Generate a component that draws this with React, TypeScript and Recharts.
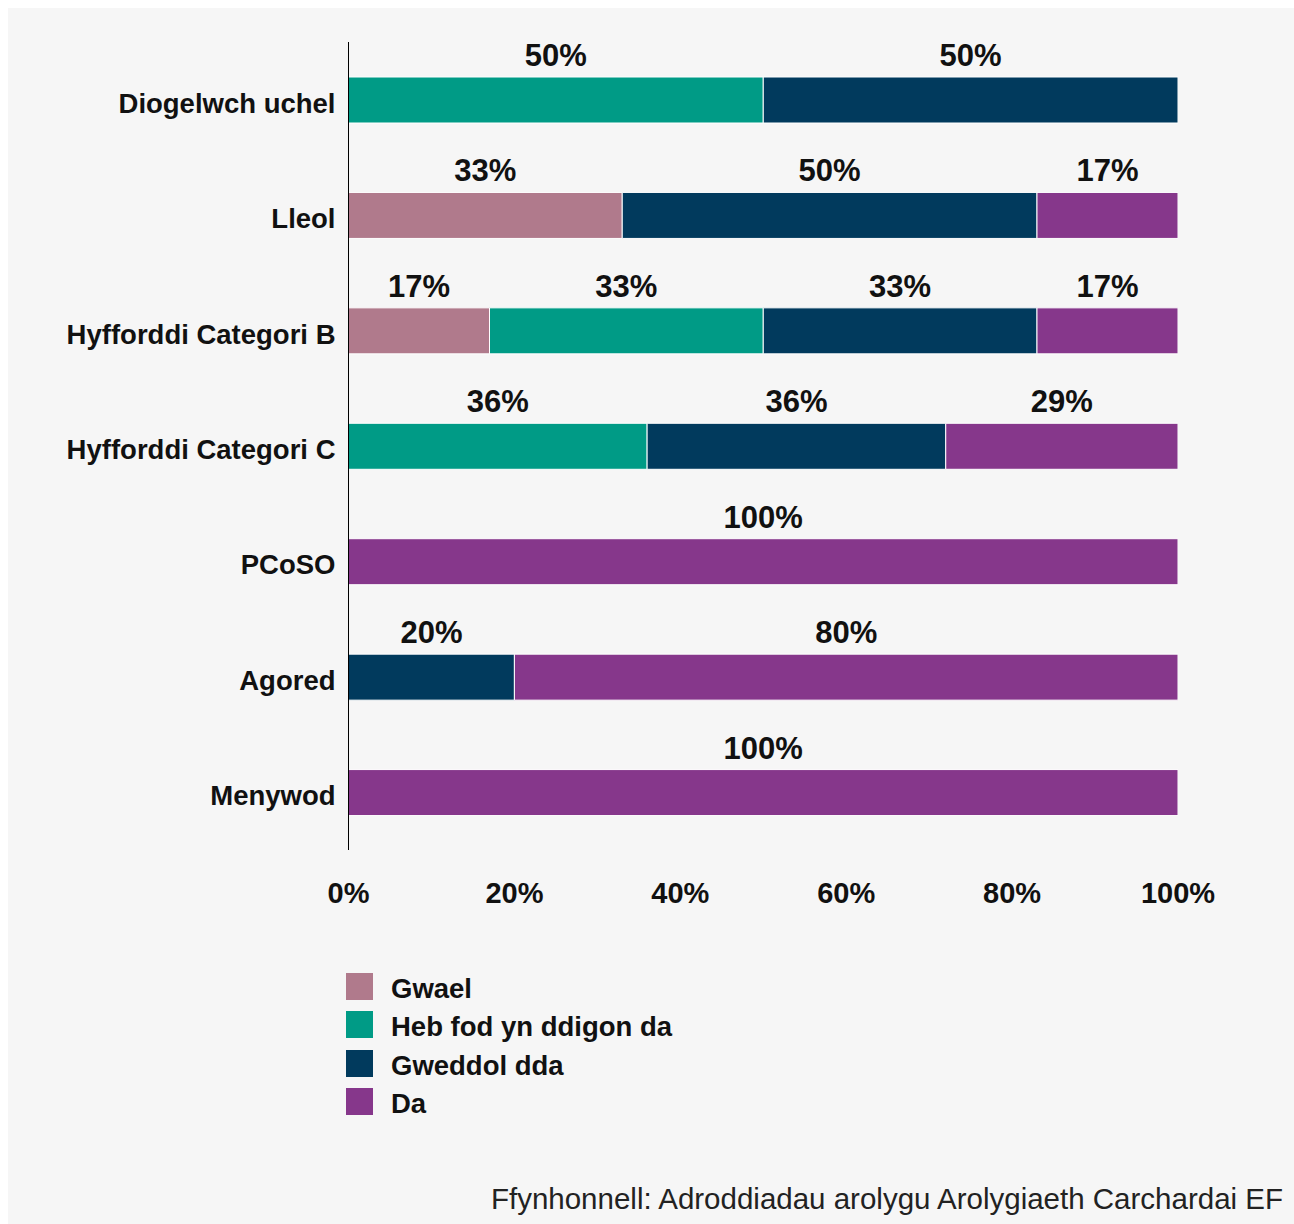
import { BarChart, Bar, XAxis, YAxis, LabelList } from 'recharts';

// Categories, top to bottom
const categories = [
  'Diogelwch uchel',
  'Lleol',
  'Hyfforddi Categori B',
  'Hyfforddi Categori C',
  'PCoSO',
  'Agored',
  'Menywod',
];

// Share of each rating, in percent
const gwael = [0, 33, 17, 0, 0, 0, 0];
const hebFodYnDdigonDa = [50, 0, 33, 36, 0, 0, 0];
const gweddolDda = [50, 50, 33, 36, 0, 20, 0];
const da = [0, 17, 17, 29, 100, 80, 100];

const xTicks = [0, 20, 40, 60, 80, 100];

const sourceNote = 'Ffynhonnell: Adroddiadau arolygu Arolygiaeth Carchardai EF';

const series = [
  { key: 'gwael', name: 'Gwael', color: '#b07a8c', values: gwael },
  { key: 'heb', name: 'Heb fod yn ddigon da', color: '#009b86', values: hebFodYnDdigonDa },
  { key: 'gweddol', name: 'Gweddol dda', color: '#013a5d', values: gweddolDda },
  { key: 'da', name: 'Da', color: '#86378b', values: da },
];

const data = categories.map((name, i) => {
  const row: Record<string, string | number> = { name };
  series.forEach((s) => {
    row[s.key] = s.values[i];
  });
  return row;
});

const FONT = "'Liberation Sans', Arial, sans-serif";
const INK = '#111';

// eslint-disable-next-line @typescript-eslint/no-explicit-any
const CategoryTick = ({ x, y, payload }: any) => (
  <text x={x - 5} y={y + 13} textAnchor="end" fontFamily={FONT} fontWeight={700} fontSize={27.5} fill={INK}>
    {payload.value}
  </text>
);

// eslint-disable-next-line @typescript-eslint/no-explicit-any
const PercentTick = ({ x, y, payload }: any) => (
  <text x={x} y={y + 45} textAnchor="middle" fontFamily={FONT} fontWeight={700} fontSize={29} fill={INK}>
    {`${payload.value}%`}
  </text>
);

// eslint-disable-next-line @typescript-eslint/no-explicit-any
const SegmentLabel = ({ x, y, width, value }: any) => {
  if (!value) return null;
  return (
    <text
      x={Number(x) + Number(width) / 2}
      y={Number(y) - 11}
      textAnchor="middle"
      fontFamily={FONT}
      fontWeight={700}
      fontSize={31}
      fill={INK}
    >
      {`${value}%`}
    </text>
  );
};

export default function App() {
  return (
    <div style={{ position: 'fixed', left: 8, top: 8, width: 1286, height: 1216, background: '#f6f6f6' }}>
      <BarChart
        width={1286}
        height={930}
        data={data}
        layout="vertical"
        barSize={46}
        margin={{ top: 34, right: 116, bottom: 0, left: 0 }}
      >
        <XAxis
          type="number"
          domain={[0, 100]}
          ticks={xTicks}
          allowDataOverflow
          axisLine={false}
          tickLine={false}
          height={88}
          tick={PercentTick}
          interval={0}
        />
        <YAxis
          type="category"
          dataKey="name"
          width={340.5}
          axisLine={{ stroke: '#000', strokeWidth: 1 }}
          tickLine={false}
          tick={CategoryTick}
          interval={0}
        />
        {series.map((s) => (
          <Bar
            key={s.key}
            dataKey={s.key}
            name={s.name}
            stackId="a"
            fill={s.color}
            stroke="#ffffff"
            strokeWidth={1}
            isAnimationActive={false}
          >
            <LabelList dataKey={s.key} content={SegmentLabel} />
          </Bar>
        ))}
      </BarChart>

      {series.map((s, i) => (
        <div key={s.key} style={{ position: 'absolute', left: 338, top: 965 + i * 38.4, height: 27 }}>
          <div style={{ position: 'absolute', left: 0, top: 0, width: 27, height: 27, background: s.color }} />
          <div
            style={{
              position: 'absolute',
              left: 45,
              top: 2,
              whiteSpace: 'nowrap',
              fontFamily: FONT,
              fontWeight: 700,
              fontSize: 27.5,
              lineHeight: '27px',
              color: INK,
            }}
          >
            {s.name}
          </div>
        </div>
      ))}

      <div
        style={{
          position: 'absolute',
          right: 11,
          top: 1176,
          whiteSpace: 'nowrap',
          fontFamily: FONT,
          fontSize: 29.5,
          lineHeight: '30px',
          color: '#222',
        }}
      >
        {sourceNote}
      </div>
    </div>
  );
}
